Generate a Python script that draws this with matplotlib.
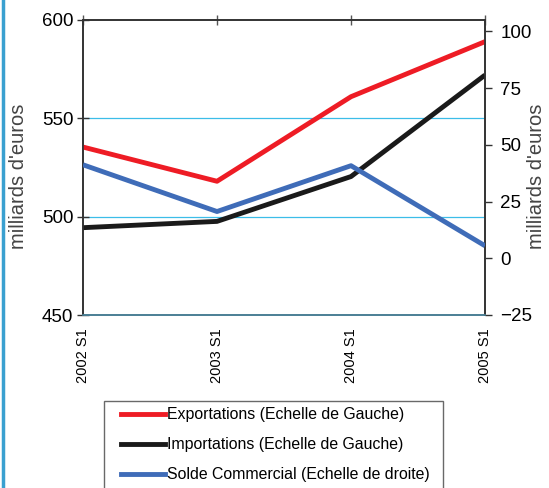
import matplotlib
matplotlib.use("Agg")
import matplotlib.pyplot as plt
from matplotlib.lines import Line2D
from matplotlib.legend_handler import HandlerLine2D
import numpy as np

plt.rcParams['font.family'] = ['Liberation Sans', 'DejaVu Sans']

categories = ["2002 S1", "2003 S1", "2004 S1", "2005 S1"]
exportations = [535.4, 518.0, 561.0, 589.0]
importations = [494.4, 497.6, 520.4, 572.0]
solde = [41.2, 20.6, 40.8, 5.5]
left_ticks = [450, 500, 550, 600]
right_ticks = [-25, 0, 25, 50, 75, 100]

RED = "#ee1c25"
BLACK = "#1a1a1a"
BLUE = "#3f6cb8"
GRID = "#3cbde8"


class ShiftedLineHandler(HandlerLine2D):
    def __init__(self, shift=8, **kw):
        super().__init__(**kw)
        self.shift = shift

    def get_xdata(self, legend, xdescent, ydescent, width, height, fontsize):
        xd = np.array([-xdescent + self.shift, -xdescent + width])
        return xd, xd


fig = plt.figure(figsize=(5.49, 4.88), dpi=100)
ax = fig.add_axes([83/549, 1-315/488, (485-83)/549, (315-20)/488])
ax2 = ax.twinx()

x = list(range(len(categories)))
ax.plot(x, exportations, color=RED, lw=3.5, solid_capstyle='butt', zorder=3)
ax.plot(x, importations, color=BLACK, lw=3.5, solid_capstyle='butt', zorder=3)
ax2.plot(x, solde, color=BLUE, lw=3.5, solid_capstyle='butt', zorder=3)

ax.set_xlim(0, len(categories)-1)
ax.set_ylim(450, 600)
ax.set_yticks(left_ticks)
ax2.set_ylim(-25, 105)
ax2.set_yticks(right_ticks)

for v in [500, 550]:
    ax.axhline(v, color=GRID, lw=0.9, zorder=1)

ax.set_xticks(x)
ax.set_xticklabels(categories, rotation=90, fontsize=10.5)
ax.tick_params(axis='x', which='both', top=True, bottom=False, labelbottom=True,
               direction='inout', length=7, width=1, color='#555555', pad=6)
ax.tick_params(axis='y', direction='inout', length=8, width=1, labelsize=13.5, color='#333333', pad=3)
ax2.tick_params(axis='y', direction='out', length=5, width=1, labelsize=13.5, color='#333333', pad=6)

for a in (ax, ax2):
    a.spines['top'].set_color('#333333')
    a.spines['left'].set_color('#333333')
    a.spines['right'].set_color('#333333')
    a.spines['bottom'].set_color('#4a7f95')
    for s in a.spines.values():
        s.set_linewidth(1.2)

ax.set_ylabel("milliards d'euros", fontsize=14.5, color='#444444')
ax2.set_ylabel("milliards d'euros", fontsize=14.5, color='#444444')
ax.yaxis.set_label_coords(-0.137, 0.47)
ax2.yaxis.set_label_coords(1.104, 0.47)

handles = [Line2D([0], [0], color=RED, lw=3.5),
           Line2D([0], [0], color=BLACK, lw=3.5),
           Line2D([0], [0], color=BLUE, lw=3.5)]
labels = ["Exportations (Echelle de Gauche)",
          "Importations (Echelle de Gauche)",
          "Solde Commercial (Echelle de droite)"]
leg = fig.legend(handles, labels, loc='upper left',
                 bbox_to_anchor=(104/549, 1-401/488, (443-104)/549, 0), mode='expand',
                 fontsize=11.4, frameon=True, fancybox=False, handlelength=3.45,
                 handletextpad=0.15, labelspacing=0.95, borderpad=0.4, borderaxespad=0,
                 handler_map={Line2D: ShiftedLineHandler(shift=8)})
leg.get_frame().set_edgecolor('#444444')
leg.get_frame().set_linewidth(1.0)

fig.add_artist(Line2D([3/549, 3/549], [0, 1], color='#3aa0d0', lw=2.5, transform=fig.transFigure))

fig.savefig("out.png", dpi=100)
